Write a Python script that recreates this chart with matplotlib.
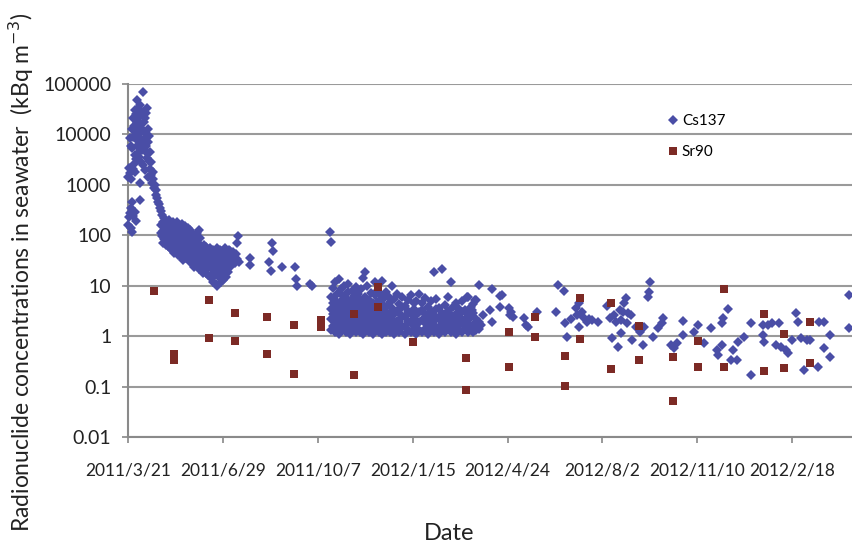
import matplotlib
matplotlib.use("Agg")
import matplotlib.pyplot as plt

# x values are days counted from 2011/3/21
tick_days = [0, 100, 200, 300, 400, 500, 600, 700]
tick_labels = ["2011/3/21", "2011/6/29", "2011/10/7", "2012/1/15",
               "2012/4/24", "2012/8/2", "2012/11/10", "2012/2/18"]
y_ticks = [0.01, 0.1, 1, 10, 100, 1000, 10000, 100000]
y_labels = ["0.01", "0.1", "1", "10", "100", "1000", "10000", "100000"]

# Cs137, first weeks (spike)
cs137_spike = [
    (0, 160), (2, 275), (4, 115), (0, 1450), (2, 1700), (4, 2000), (4, 460),
    (7, 290), (5, 2100), (7, 1800), (2, 8500), (4, 5300), (7, 3900),
    (4, 13000), (5, 21000), (7, 30000), (9, 7800), (9.5, 48000), (10, 17000),
    (13, 38000), (13, 11000), (13, 1100), (13, 500), (15, 4900), (16, 70000),
    (16, 2500), (18, 21000), (18, 8500), (20, 33000), (20, 3400), (21, 13000),
    (21, 1400), (23, 4500), (23, 2100), (25, 1100), (27, 870), (30, 630),
    (32, 460), (34, 350), (36, 250), (37, 180), (39, 140),
    (3, 6000), (5, 9000), (6, 15000), (8, 25000), (9, 11000), (10, 6000),
    (11, 32000), (11, 14000), (12, 9000), (12, 22000), (14, 16000),
    (14, 7000), (15, 28000), (16, 12000), (17, 5500), (17, 18000),
    (19, 10000), (19, 27000), (19, 6000), (20, 4200), (21, 7000), (22, 9500),
    (22, 3000), (24, 2800), (24, 1600), (26, 1800), (26, 1300), (28, 1000),
    (29, 780), (31, 540), (33, 420), (35, 300), (3, 1300), (1, 2200),
    (6, 2600), (8, 3200), (10, 4000), (12, 3500), (14, 2800), (18, 2000),
    (3, 350), (1, 230), (5, 240), (8, 190), (3, 140),
]

# Cs137, decline through summer 2011
cs137_decline = [
    (35, 110), (35, 160), (36, 95), (37, 70), (37, 120), (38, 220), (38, 85),
    (39, 100), (40, 65), (40, 190), (41, 150), (41, 80), (42, 110), (42, 60),
    (43, 200), (43, 130), (44, 55), (44, 90), (45, 75), (45, 160), (46, 120),
    (46, 50), (47, 180), (47, 65), (48, 44), (48, 100), (49, 140), (49, 80),
    (50, 55), (50, 170), (51, 110), (51, 48), (52, 180), (52, 70), (53, 130),
    (53, 40), (54, 90), (54, 60), (55, 150), (55, 38), (56, 110), (56, 75),
    (57, 50), (57, 165), (58, 32), (58, 95), (59, 130), (59, 60), (60, 45),
    (60, 150), (61, 80), (61, 35), (62, 115), (62, 55), (63, 140), (63, 42),
    (64, 70), (64, 95), (65, 30), (65, 125), (66, 60), (66, 85), (67, 40),
    (67, 110), (68, 28), (68, 75), (69, 50), (69, 100), (70, 23), (70, 65),
    (71, 90), (71, 35), (72, 45), (72, 80), (73, 110), (73, 27), (74, 55),
    (74, 70), (75, 21), (75, 40), (76, 90), (76, 30), (77, 60), (77, 48),
    (78, 20), (78, 35), (79, 18), (79, 55), (80, 65), (80, 25), (81, 42),
    (81, 30), (82, 18), (82, 58), (83, 35), (83, 22), (84, 50), (84, 16),
    (85, 28), (85, 40), (86, 15), (86, 55), (87, 32), (87, 22), (88, 45),
    (88, 14), (89, 25), (89, 38), (90, 12), (90, 52), (91, 30), (91, 18),
    (92, 42), (92, 22), (93, 11), (93, 35), (94, 10), (94, 56), (95, 27),
    (95, 45), (96, 15), (96, 33), (97, 20), (97, 50), (98, 12), (98, 38),
    (99, 25), (99, 48), (100, 13), (100, 30), (101, 42), (101, 18), (102, 22),
    (102, 55), (103, 35), (103, 15), (104, 28), (104, 45), (105, 19),
    (105, 38), (106, 50), (106, 24), (107, 30), (107, 42), (108, 23),
    (108, 48), (109, 35), (109, 27), (110, 40), (110, 30), (111, 46),
    (112, 33), (112, 38), (113, 28), (114, 42), (115, 34),
    (75, 125), (116, 96), (115, 70), (117, 30), (129, 35), (129, 26),
    (152, 70), (153, 49), (149, 30), (151, 20), (162, 23), (176, 23),
    (177, 13.5), (178, 10), (192, 11), (194, 10), (213, 115), (214, 75),
]

# Cs137, autumn/winter 2011 cluster
cs137_cluster = [
    (214, 1.3), (214, 2.2), (214, 3.5), (214, 6.0),
    (216, 1.6), (216, 2.8), (216, 4.5), (216, 9.0),
    (218, 1.2), (218, 1.9), (218, 3.0), (218, 5.2), (218, 12),
    (220, 1.4), (220, 2.5), (220, 4.0), (220, 7.0),
    (222, 1.1), (222, 1.8), (222, 3.3), (222, 13.5),
    (224, 1.5), (224, 2.6), (224, 5.0), (224, 8.5),
    (226, 1.3), (226, 2.1), (226, 3.8), (226, 6.5),
    (228, 1.7), (228, 2.9), (228, 4.4), (228, 10),
    (230, 1.2), (230, 2.0), (230, 3.2), (230, 5.8),
    (232, 1.4), (232, 2.4), (232, 4.2), (232, 7.5), (232, 11),
    (234, 1.1), (234, 1.9), (234, 3.0), (234, 5.0),
    (236, 1.6), (236, 2.7), (236, 4.8), (236, 8.0),
    (238, 1.3), (238, 2.2), (238, 3.6), (238, 6.2),
    (240, 1.2), (240, 1.8), (240, 2.9), (240, 4.6), (240, 9.5),
    (242, 1.5), (242, 2.5), (242, 4.0), (242, 7.0),
    (244, 1.2), (244, 2.1), (244, 3.4), (244, 5.5),
    (246, 1.4), (246, 2.3), (246, 3.9), (246, 8.5),
    (248, 1.1), (248, 1.7), (248, 2.8), (248, 4.5), (248, 14),
    (250, 1.3), (250, 2.0), (250, 3.3), (250, 6.0), (250, 19),
    (252, 1.5), (252, 2.6), (252, 4.2), (252, 10),
    (254, 1.2), (254, 1.9), (254, 3.1), (254, 5.2),
    (256, 1.4), (256, 2.4), (256, 3.7), (256, 7.2),
    (258, 1.1), (258, 1.8), (258, 2.7), (258, 4.6),
    (260, 1.3), (260, 2.2), (260, 3.5), (260, 6.5), (260, 12),
    (262, 1.6), (262, 2.9), (262, 4.8), (262, 8.0),
    (264, 1.2), (264, 2.0), (264, 3.0), (264, 5.0),
    (266, 1.4), (266, 2.3), (266, 3.8), (266, 6.8),
    (268, 1.1), (268, 1.7), (268, 2.6), (268, 4.3), (268, 12.4),
    (270, 1.3), (270, 2.1), (270, 3.4), (270, 5.6),
    (272, 1.2), (272, 1.9), (272, 3.0), (272, 7.5),
    (274, 1.5), (274, 2.5), (274, 4.1), (274, 6.2),
    (276, 1.2), (276, 1.8), (276, 2.8), (276, 4.8),
    (278, 1.4), (278, 2.2), (278, 3.6), (278, 10),
    (280, 1.1), (280, 1.7), (280, 2.7), (280, 5.5),
    (283, 1.3), (283, 2.0), (283, 3.2), (283, 7.0),
    (286, 1.2), (286, 1.9), (286, 2.9), (286, 4.4),
    (289, 1.5), (289, 2.4), (289, 3.7), (289, 6.0),
    (292, 1.1), (292, 1.6), (292, 2.5), (292, 4.0),
    (295, 1.3), (295, 2.0), (295, 3.1), (295, 5.2),
    (298, 1.2), (298, 1.8), (298, 2.8), (298, 6.5),
    (301, 1.4), (301, 2.2), (301, 3.5), (301, 4.6),
    (304, 1.1), (304, 1.7), (304, 2.6), (304, 5.0),
    (307, 1.3), (307, 1.9), (307, 3.0), (307, 7.0),
    (310, 1.2), (310, 2.1), (310, 3.3), (310, 4.5),
    (313, 1.4), (313, 1.8), (313, 2.7), (313, 5.8),
    (316, 1.1), (316, 1.6), (316, 2.4), (316, 3.8),
    (319, 1.3), (319, 2.0), (319, 3.1), (319, 4.9),
    (322, 1.2), (322, 1.7), (322, 2.6), (322, 19),
    (325, 1.4), (325, 2.2), (325, 3.4), (325, 5.5),
    (328, 1.1), (328, 1.5), (328, 2.3), (328, 3.6),
    (331, 1.3), (331, 1.9), (331, 2.9), (331, 21),
    (334, 1.2), (334, 1.6), (334, 2.5), (334, 4.2),
    (337, 1.4), (337, 2.1), (337, 3.2), (337, 6.0),
    (340, 1.2), (340, 1.8), (340, 2.6), (340, 12),
    (343, 1.3), (343, 1.5), (343, 2.3), (343, 3.7),
    (346, 1.1), (346, 1.9), (346, 2.8), (346, 4.5),
    (349, 1.3), (349, 1.7), (349, 2.4), (349, 3.5),
    (352, 1.2), (352, 2.0), (352, 3.0), (352, 5.0),
    (355, 1.4), (355, 1.6), (355, 2.2), (355, 3.3),
    (358, 1.2), (358, 1.8), (358, 2.7), (358, 6.0),
    (361, 1.3), (361, 1.5), (361, 2.4), (361, 3.8),
    (364, 1.2), (364, 1.7), (364, 2.9), (364, 4.4),
    (367, 1.3), (367, 1.6), (367, 2.2), (367, 5.2),
    (370, 1.4), (370, 1.9), (370, 10.3),
]

# Cs137, 2012 onwards (sparser)
cs137_late = [
    (384, 8.6), (392, 6.2), (394, 6.5), (382, 3.3), (392, 3.8), (401, 3.6),
    (403, 2.6), (384, 1.9), (374, 2.6), (372, 1.65), (366, 1.3), (357, 6),
    (366, 5.2), (363, 3.3), (406, 2.4), (404, 3.0), (417, 2.3), (419, 1.65),
    (422, 1.5), (431, 3.0), (453, 10.3), (459, 7.8), (451, 3.0), (461, 1.8),
    (463, 0.96), (472, 3.6), (475, 4.5), (473, 2.6), (475, 1.5), (484, 1.9),
    (489, 2.1), (495, 1.9), (480, 2.4), (486, 2.2), (478, 3.0), (467, 2.2),
    (505, 4.0), (508, 2.3), (510, 0.91), (512, 2.6), (516, 0.6), (514, 1.9),
    (518, 3.3), (519, 1.15), (520, 2.1), (523, 4.5), (525, 5.7), (522, 3.0),
    (527, 2.9), (526, 1.8), (530, 2.6), (531, 0.83), (535, 1.5), (540, 1.2),
    (543, 0.66), (544, 1.5), (550, 11.8), (549, 7.5), (548, 6), (553, 0.96),
    (558, 1.44), (563, 1.8), (564, 2.3), (572, 0.66), (575, 0.58),
    (579, 0.73), (585, 1.05), (585, 2.0), (596, 1.2), (601, 1.65),
    (607, 0.73), (614, 1.44), (621, 0.53), (622, 0.42), (626, 0.66),
    (626, 1.8), (627, 2.3), (632, 3.4), (635, 0.34), (638, 0.53),
    (642, 0.34), (643, 0.76), (649, 0.96), (656, 1.8), (656, 0.17),
    (669, 1.65), (669, 1.05), (670, 0.76), (674, 1.65), (679, 1.8),
    (683, 0.66), (686, 1.8), (688, 0.6), (693, 0.53), (695, 0.46),
    (700, 0.83), (704, 2.9), (706, 1.9), (709, 0.91), (712, 0.21),
    (716, 0.83), (719, 0.83), (727, 0.25), (728, 1.9), (733, 1.9),
    (733, 0.58), (740, 1.05), (740, 0.38), (760, 6.5), (760, 1.44),
]

sr90_days = [27, 49, 48, 85, 85, 113, 113, 147, 147, 175, 175, 203, 203,
             238, 238, 263, 263, 300, 356, 356, 401, 401, 429, 429, 461, 461,
             476, 476, 509, 509, 538, 538, 574, 574, 601, 601, 628, 628,
             670, 670, 691, 691, 719, 719]
sr90_vals = [8.0, 0.44, 0.34, 5.2, 0.9, 2.9, 0.8, 2.4, 0.44, 1.7, 0.18, 2.1, 1.5,
             2.7, 0.17, 9.5, 3.8, 0.78, 0.37, 0.085, 1.2, 0.25, 2.4, 0.97, 0.40,
             0.105, 5.7, 0.87, 4.5, 0.22, 1.6, 0.34, 0.38, 0.051, 0.8, 0.25,
             8.6, 0.25, 2.7, 0.2, 1.1, 0.23, 1.9, 0.30]

cs137 = cs137_spike + cs137_decline + cs137_cluster + cs137_late
cs_days = [p[0] for p in cs137]
cs_vals = [p[1] for p in cs137]

CS_COLOR = "#4a4ea6"
SR_COLOR = "#7c2a25"
FONT = "Lato"

fig = plt.figure(figsize=(8.53, 5.44), dpi=100)
ax = fig.add_axes([128 / 853, 1 - 437 / 544, (853 - 128) / 853, (437 - 84) / 544])

ax.plot(cs_days, cs_vals, linestyle="none", marker="D", markersize=5.4,
        color=CS_COLOR, markeredgewidth=0, label="Cs137", clip_on=False, zorder=3)
ax.plot(sr90_days, sr90_vals, linestyle="none", marker="s", markersize=6.4,
        color=SR_COLOR, markeredgewidth=0, label="Sr90", clip_on=False, zorder=4)

ax.set_yscale("log")
ax.set_ylim(0.01, 100000)
ax.set_xlim(0, 764)
ax.set_yticks(y_ticks)
ax.set_yticklabels(y_labels, fontsize=14, family=FONT, color="#222222")
ax.minorticks_off()
ax.set_xticks(tick_days)
ax.set_xticklabels(tick_labels, fontsize=12.5, family=FONT, color="#222222")
ax.tick_params(axis="y", length=4, width=1.2, color="#888888", pad=8)
ax.tick_params(axis="x", length=4, width=1.2, color="#888888", pad=14)

ax.grid(axis="y", color="#9a9a9a", linewidth=1.5)
ax.set_axisbelow(True)
for side in ["top", "right"]:
    ax.spines[side].set_visible(False)
for side in ["left", "bottom"]:
    ax.spines[side].set_color("#8a8a8a")
    ax.spines[side].set_linewidth(1.5)

leg = ax.legend(loc="upper left", bbox_to_anchor=((662 - 128) / 725, (437 - 108) / 353),
                frameon=False, handlelength=0.6, handletextpad=0.3,
                labelspacing=1.1, borderaxespad=0,
                prop={"family": FONT, "size": 11})

fig.text(21 / 853, 1 - 272 / 544,
         "Radionuclide concentrations in seawater  (kBq m$^{-3}$)",
         rotation=90, ha="center", va="center", fontsize=16.5, family=FONT,
         color="#222222")
fig.text(449 / 853, 4 / 544, "Date", ha="center", va="baseline",
         fontsize=17, family=FONT, color="#222222")

fig.savefig("out.png", dpi=100)
